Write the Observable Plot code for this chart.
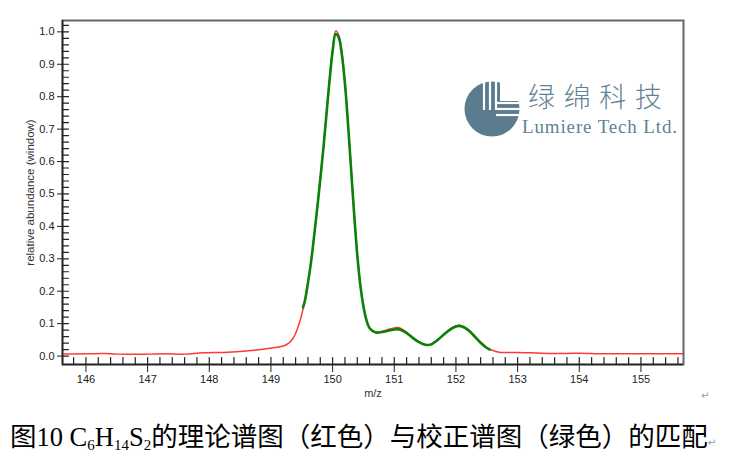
<!DOCTYPE html>
<html><head><meta charset="utf-8">
<script src="https://cdn.jsdelivr.net/npm/d3@7"></script>
<script src="https://cdn.jsdelivr.net/npm/@observablehq/plot@0.6"></script>
<style>
body{margin:0;background:#fff;width:749px;height:461px;overflow:hidden;position:relative;font-family:"Liberation Sans",Arial,sans-serif}
#chart{position:absolute;left:0;top:0}
#logo{position:absolute;left:0;top:0;pointer-events:none}
#caption{position:absolute;left:10px;top:421px;font-size:26.5px;line-height:32px;white-space:nowrap;color:#000;font-family:"Liberation Serif","Noto Sans CJK SC",serif}
#caption sub{font-size:15px;vertical-align:-4px;line-height:0}
.pm{position:absolute;color:#999;font-size:10px;font-family:"DejaVu Sans",sans-serif}
</style></head>
<body>
<div id="chart"></div>
<div id="caption">图10 C<sub>6</sub>H<sub>14</sub>S<sub>2</sub>的理论谱图（红色）与校正谱图（绿色）的匹配<span style="color:#999;font-size:10px;font-family:'DejaVu Sans',sans-serif">↵</span></div>
<span class="pm" style="left:701px;top:390px">↵</span>
<script>
// Theoretical spectrum (red)
const mzTheory = [145.6,146.0,146.3,146.5,147.0,147.3,147.6,147.9,148.3,148.6,148.9,149.1,149.25,149.35,149.45,149.55,149.6,149.65,149.7,149.75,149.8,149.85,149.9,149.95,150.0,150.05,150.1,150.15,150.2,150.25,150.3,150.35,150.4,150.45,150.5,150.55,150.6,150.7,150.8,150.9,151.0,151.05,151.1,151.2,151.3,151.4,151.5,151.55,151.6,151.7,151.8,151.9,152.0,152.05,152.1,152.2,152.3,152.4,152.5,152.6,152.7,153.0,153.2,153.5,153.8,154.0,154.4,155.0,155.7];
const abTheory = [0.006,0.007,0.008,0.006,0.006,0.007,0.006,0.010,0.012,0.016,0.022,0.027,0.035,0.052,0.095,0.170,0.225,0.290,0.370,0.455,0.545,0.640,0.745,0.850,0.945,1.003,0.990,0.935,0.845,0.720,0.580,0.440,0.315,0.220,0.155,0.112,0.087,0.074,0.076,0.082,0.087,0.088,0.086,0.074,0.058,0.044,0.036,0.035,0.037,0.050,0.067,0.083,0.093,0.095,0.093,0.082,0.063,0.043,0.027,0.017,0.012,0.011,0.010,0.008,0.008,0.009,0.007,0.007,0.007];
// Calibrated spectrum (green)
const mzCalib = [149.52,149.55,149.6,149.65,149.7,149.75,149.8,149.85,149.9,149.95,150.0,150.05,150.1,150.15,150.2,150.25,150.3,150.35,150.4,150.45,150.5,150.55,150.6,150.7,150.8,150.9,151.0,151.05,151.1,151.2,151.3,151.4,151.5,151.55,151.6,151.7,151.8,151.9,152.0,152.05,152.1,152.2,152.3,152.4,152.5,152.55];
const abCalib = [0.150,0.170,0.225,0.290,0.370,0.455,0.545,0.640,0.745,0.850,0.940,0.993,0.982,0.930,0.840,0.715,0.575,0.436,0.312,0.218,0.153,0.110,0.086,0.073,0.074,0.078,0.082,0.083,0.081,0.071,0.056,0.043,0.035,0.034,0.036,0.049,0.066,0.081,0.091,0.093,0.091,0.080,0.061,0.041,0.025,0.020];
// Axis ticks
const xTicks = [146,147,148,149,150,151,152,153,154,155];
const yTicks = [0,0.1,0.2,0.3,0.4,0.5,0.6,0.7,0.8,0.9,1.0];
const xMinor = d3.range(145.8, 155.7, 0.2).map(v => +v.toFixed(1));
const yMinor = d3.range(0, 1.03, 0.02).map(v => +v.toFixed(2));

const theory = mzTheory.map((x, i) => ({x, y: abTheory[i]}));
const calib = mzCalib.map((x, i) => ({x, y: abCalib[i]}));
const xDomain = [145.62, 155.69], yDomain = [-0.026, 1.035];

const tickUp = {draw(ctx, l) { ctx.moveTo(0, 0); ctx.lineTo(0, -l); }};
const tickRight = {draw(ctx, l) { ctx.moveTo(0, 0); ctx.lineTo(l, 0); }};

const chart = Plot.plot({
  width: 749, height: 405,
  marginLeft: 62, marginRight: 66, marginTop: 20, marginBottom: 41,
  style: {color: "#222", fontFamily: "'Liberation Sans', Arial, sans-serif", background: "transparent"},
  x: {domain: xDomain},
  y: {domain: yDomain},
  marks: [
    Plot.frame({stroke: "#666", strokeWidth: 2}),
    Plot.line(theory, {x: "x", y: "y", stroke: "#ff3838", strokeWidth: 1.5, curve: "catmull-rom", clip: true}),
    Plot.line(calib, {x: "x", y: "y", stroke: "#0a820a", strokeWidth: 2.6, curve: "catmull-rom", clip: true}),
    Plot.ruleY([yDomain[0]], {stroke: "#222", strokeWidth: 1.5}),
    Plot.ruleX([xDomain[0]], {stroke: "#222", strokeWidth: 1.5}),
    Plot.axisX({ticks: xTicks, tickSize: 8, tickPadding: 3, fontSize: 11, tickFormat: d => d, label: null}),
    Plot.axisY({ticks: yTicks, tickSize: 5, tickPadding: 3, fontSize: 11, tickFormat: d3.format(".1f"), label: null}),
    Plot.vector(xMinor, {x: d => d, frameAnchor: "bottom", length: 7, anchor: "start", shape: tickUp, stroke: "#222", strokeWidth: 1.2}),
    Plot.vector(yMinor, {y: d => d, frameAnchor: "left", length: 6, anchor: "start", shape: tickRight, stroke: "#222", strokeWidth: 1.2}),
    Plot.text(["relative abundance (window)"], {frameAnchor: "left", textAnchor: "middle", rotate: -90, dx: -32, fontSize: 11.5, fill: "#333"}),
    Plot.text(["m/z"], {frameAnchor: "bottom", dy: 32, fontSize: 11, fill: "#333"})
  ]
});
document.getElementById("chart").appendChild(chart);

// Company logo (decorative overlay)
const logo = d3.select("body").append("svg").attr("id", "logo").attr("width", 749).attr("height", 461);
logo.append("circle").attr("cx", 492).attr("cy", 109).attr("r", 27.5).attr("fill", "#5a7c8e");
const g = logo.append("g").attr("stroke", "#fff").attr("stroke-width", 2.2);
[484, 490, 496].forEach(x => g.append("line").attr("x1", x).attr("x2", x).attr("y1", 80).attr("y2", 110));
[103, 109, 115].forEach(y => g.append("line").attr("x1", 496).attr("x2", 522).attr("y1", y).attr("y2", y));
logo.append("rect").attr("x", 500).attr("y", 80).attr("width", 24).attr("height", 21).attr("fill", "#fff");
logo.append("text").attr("x", 528).attr("y", 107).attr("font-size", 27).attr("fill", "#5f8394")
  .attr("font-family", "'Noto Sans CJK SC', sans-serif").attr("font-weight", 300).attr("textLength", 134).text("绿绵科技");
logo.append("text").attr("x", 522).attr("y", 133).attr("font-size", 19).attr("fill", "#5f8394")
  .attr("font-family", "'Liberation Serif', serif").attr("textLength", 155).text("Lumiere Tech Ltd.");
</script>
</body></html>
